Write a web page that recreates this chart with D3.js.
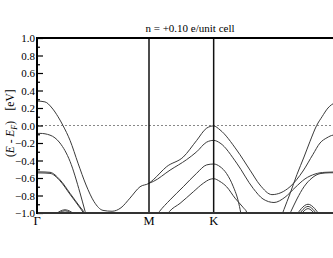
<!DOCTYPE html>
<html>
<head>
<meta charset="utf-8">
<script src="https://cdn.jsdelivr.net/npm/d3@7/dist/d3.min.js"></script>
<style>
  body { margin: 0; background: #fff; }
  svg text { font-family: "Liberation Serif", "DejaVu Serif", serif; fill: #000; }
</style>
</head>
<body>
<svg id="chart" width="333" height="258"></svg>
<script>
// k-path: Γ - M - K - Γ (hexagonal, |ΓM| = 1)
const kPoints = [0, 1, 1 + 1 / Math.sqrt(3), 1 + Math.sqrt(3)];
const kLabels = ['Γ', 'M', 'K', 'Γ'];
const yTicks = [1.0, 0.8, 0.6, 0.4, 0.2, 0.0, -0.2, -0.4, -0.6, -0.8, -1.0];
const titleText = 'n = +0.10 e/unit cell';

// bands, [k, E - E_F]
const bandA = [[0, 0.28], [0.071, 0.27], [0.134, 0.20], [0.188, 0.10], [0.232, 0.0], [0.295, -0.17],
  [0.366, -0.43], [0.438, -0.68], [0.509, -0.87], [0.589, -0.97], [0.670, -0.98], [0.750, -0.94],
  [0.830, -0.83], [0.920, -0.70], [1.0, -0.66], [1.038, -0.62], [1.158, -0.47], [1.306, -0.36],
  [1.426, -0.17], [1.515, -0.03], [1.577, -0.005], [1.634, -0.05], [1.783, -0.28], [1.902, -0.51],
  [1.991, -0.68], [2.098, -0.79], [2.259, -0.70], [2.375, -0.52], [2.464, -0.33], [2.527, -0.20],
  [2.589, -0.14], [2.643, -0.11], [2.732, -0.10]];
const bandB = [[1.0, -0.66], [1.038, -0.64], [1.188, -0.51], [1.336, -0.39], [1.426, -0.30],
  [1.515, -0.19], [1.577, -0.17], [1.634, -0.20], [1.783, -0.43], [1.931, -0.72], [2.018, -0.84],
  [2.116, -0.88], [2.214, -0.82], [2.304, -0.71], [2.393, -0.61], [2.482, -0.555], [2.571, -0.535],
  [2.732, -0.53]];
const bandC = [[0, -0.09], [0.027, -0.09], [0.116, -0.11], [0.205, -0.20], [0.295, -0.41],
  [0.384, -0.77], [0.429, -0.98], [0.45, -1.08]];
const bandD = [[0, -0.53], [0.027, -0.53], [0.116, -0.535], [0.205, -0.62], [0.295, -0.775],
  [0.384, -0.93], [0.414, -0.98], [0.44, -1.05]];
const bandD2 = [[0, -0.542], [0.027, -0.542], [0.116, -0.547], [0.205, -0.632], [0.295, -0.787],
  [0.384, -0.942], [0.41, -0.99], [0.435, -1.05]];
const bandE = [[1.05, -1.06], [1.092, -0.985], [1.188, -0.85], [1.306, -0.70], [1.426, -0.545],
  [1.515, -0.45], [1.577, -0.44], [1.634, -0.47], [1.693, -0.55], [1.753, -0.70], [1.798, -0.87],
  [1.818, -0.99], [1.83, -1.08]];
const bandF = [[1.14, -1.06], [1.181, -0.985], [1.277, -0.89], [1.396, -0.757], [1.485, -0.66],
  [1.545, -0.615], [1.577, -0.608], [1.634, -0.64], [1.693, -0.70], [1.768, -0.83], [1.843, -0.94],
  [1.872, -0.99], [1.89, -1.06]];
const bandG = [[2.179, -1.05], [2.205, -0.96], [2.259, -0.78], [2.321, -0.56], [2.384, -0.36],
  [2.438, -0.18], [2.497, 0.0], [2.545, 0.10], [2.598, 0.20], [2.661, 0.26], [2.732, 0.28]];
const bandH = [[2.241, -1.05], [2.268, -0.98], [2.321, -0.84], [2.384, -0.70], [2.455, -0.60],
  [2.527, -0.55], [2.616, -0.54], [2.732, -0.54]];
const bumpL1 = [[0.16, -1.02], [0.205, -0.98], [0.25, -0.963], [0.295, -0.98], [0.34, -1.02]];
const bumpL2 = [[0.175, -1.02], [0.21, -0.99], [0.25, -0.975], [0.29, -0.99], [0.325, -1.02]];
const bumpR1 = [[2.32, -1.02], [2.36, -0.95], [2.42, -0.90], [2.48, -0.95], [2.52, -1.02]];
const bumpR2 = [[2.34, -1.02], [2.375, -0.96], [2.42, -0.925], [2.465, -0.96], [2.50, -1.02]];
const bumpR3 = [[2.355, -1.02], [2.385, -0.975], [2.42, -0.95], [2.455, -0.975], [2.485, -1.02]];

const bands = [bandA, bandB, bandC, bandD, bandD2, bandE, bandF, bandG, bandH,
  bumpL1, bumpL2, bumpR1, bumpR2, bumpR3];

const W = 333;
const svg = d3.select('#chart');
const x0 = 37, x1 = 37 + 112 * kPoints[3];
const y0 = 38, y1 = 213;

const x = d3.scaleLinear().domain([0, kPoints[3]]).range([x0, x1]);
const y = d3.scaleLinear().domain([-1, 1]).range([y1, y0]);

svg.append('clipPath').attr('id', 'clip')
  .append('rect').attr('x', x0).attr('y', y0).attr('width', x1 - x0).attr('height', y1 - y0);

// fermi level
svg.append('line')
  .attr('x1', x0).attr('x2', x1).attr('y1', y(0)).attr('y2', y(0))
  .attr('stroke', '#888').attr('stroke-width', 1).attr('stroke-dasharray', '2,2');

const line = d3.line().x(d => x(d[0])).y(d => y(d[1])).curve(d3.curveMonotoneX);

svg.append('g').attr('clip-path', 'url(#clip)')
  .selectAll('path').data(bands).join('path')
  .attr('d', line)
  .attr('fill', 'none')
  .attr('stroke', '#3a3a3a')
  .attr('stroke-width', 1);

// high symmetry lines
svg.selectAll('.kline').data(kPoints.slice(1, 3)).join('line')
  .attr('class', 'kline')
  .attr('x1', d => x(d)).attr('x2', d => x(d))
  .attr('y1', y0).attr('y2', y1)
  .attr('stroke', '#111').attr('stroke-width', 1.5);

// y axis, minor ticks every 0.1
const yAxis = d3.axisRight(y)
  .tickValues(d3.range(-1, 1.0001, 0.1))
  .tickSize(0)
  .tickFormat('');
const gy = svg.append('g').attr('transform', `translate(${x0},0)`).call(yAxis);
gy.select('.domain').remove();
gy.selectAll('.tick line')
  .attr('x2', d => (Math.round(d * 10) % 2 === 0 ? 6 : 3))
  .attr('stroke', '#000').attr('stroke-width', 1.2);

svg.selectAll('.ylab').data(yTicks).join('text')
  .attr('class', 'ylab')
  .attr('x', x0 - 2).attr('y', d => y(d) + 4)
  .attr('text-anchor', 'end')
  .attr('font-size', 11)
  .text(d => d3.format('.1f')(d));

// frame
svg.append('line').attr('x1', x0).attr('x2', x1).attr('y1', y0).attr('y2', y0)
  .attr('stroke', '#000').attr('stroke-width', 2);
svg.append('line').attr('x1', x0).attr('x2', x1).attr('y1', y1).attr('y2', y1)
  .attr('stroke', '#333').attr('stroke-width', 2);
svg.append('line').attr('x1', x0).attr('x2', x0).attr('y1', y0 - 1).attr('y2', y1 + 1)
  .attr('stroke', '#000').attr('stroke-width', 2);

// k labels (last Γ falls outside the window)
svg.selectAll('.klab').data(kPoints.filter(d => x(d) < W - 4)).join('text')
  .attr('class', 'klab')
  .attr('x', d => x(d)).attr('y', y1 + 12)
  .attr('text-anchor', 'middle')
  .attr('font-size', 12.5)
  .text((d, i) => kLabels[i]);

// y label, two pieces: "(E - E_F)" and "[eV]"
const ylabA = svg.append('text')
  .attr('transform', 'translate(14,139) rotate(-90)')
  .attr('text-anchor', 'middle')
  .attr('font-size', 11.5);
ylabA.append('tspan').text('(');
ylabA.append('tspan').attr('font-style', 'italic').text('E');
ylabA.append('tspan').text(' - ');
ylabA.append('tspan').attr('font-style', 'italic').text('E');
ylabA.append('tspan').attr('font-style', 'italic').attr('font-size', 8).attr('dy', 3).text('F');
ylabA.append('tspan').attr('dy', -3).text(')');

svg.append('text')
  .attr('transform', 'translate(14,100) rotate(-90)')
  .attr('text-anchor', 'middle')
  .attr('font-size', 11.5)
  .text('[eV]');

svg.append('text')
  .attr('x', 190).attr('y', 32)
  .attr('text-anchor', 'middle')
  .attr('font-size', 11)
  .text(titleText);
</script>
</body>
</html>
